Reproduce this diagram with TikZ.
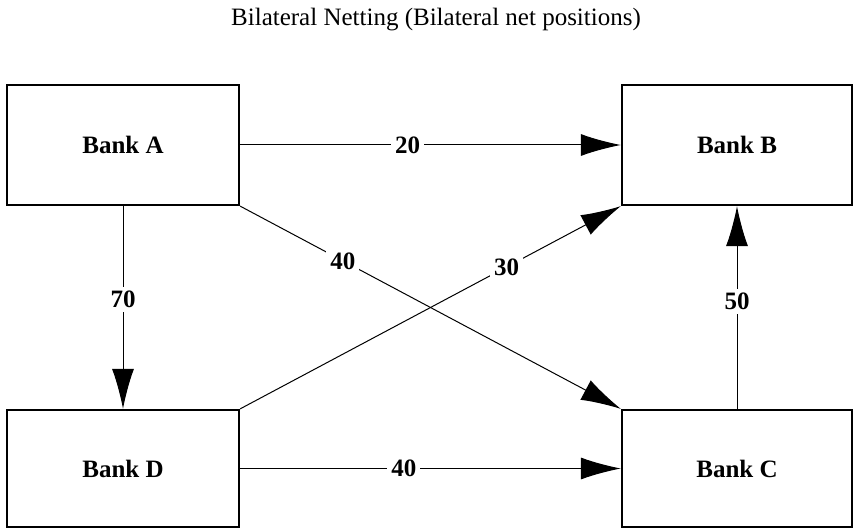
\documentclass[tikz,border=0pt]{standalone}
\usepackage{fontspec}
\setmainfont{Liberation Serif}
\usetikzlibrary{arrows.meta}
\begin{document}
\begin{tikzpicture}[x=1pt,y=-1pt,
  bank/.style={draw=black,line width=2.2pt,minimum width=232pt,minimum height=119pt,font=\fontsize{25}{28}\selectfont\bfseries,inner sep=0pt},
  conn/.style={line width=1pt,-{Latex[length=40pt,width=22pt]}},
  lbl/.style={fill=white,font=\fontsize{25}{27}\selectfont\bfseries,inner sep=4pt}]
\useasboundingbox (0,0) rectangle (854,529);
\node (title) at (436,20) {\fontsize{25}{27}\selectfont Bilateral Netting (Bilateral net positions)};
\node[bank,minimum height=120pt] (A) at (123,145) {Bank A};
\node[bank,minimum width=230pt,minimum height=120pt] (B) at (737,145) {Bank B};
\node[bank,minimum height=117pt] (D) at (123,468.5) {Bank D};
\node[bank,minimum width=230pt,minimum height=117pt] (C) at (737,468.5) {Bank C};
\draw[conn] (A.east) -- node[lbl,pos=0.44] {20} (B.west);
\draw[conn] (A.south) -- node[lbl,pos=0.46] {70} (D.north);
\draw[conn] (C.north) -- node[lbl,pos=0.53] {50} (B.south);
\draw[conn] (D.east) -- node[lbl,pos=0.43] {40} (C.west);
\draw[conn] (A.south east) -- node[lbl,pos=0.27] {40} (C.north west);
\draw[conn] (D.north east) -- node[lbl,pos=0.70] {30} (B.south west);
\end{tikzpicture}
\end{document}
